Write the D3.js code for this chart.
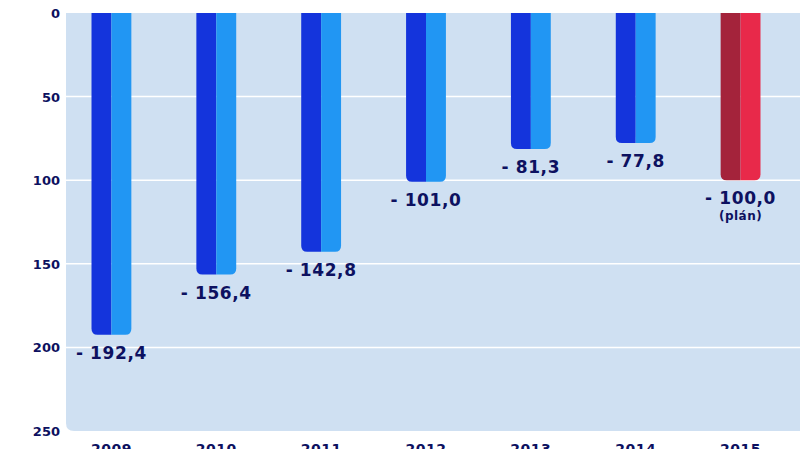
<!DOCTYPE html>
<html lang="cs">
  <head>
    <meta charset="UTF-8" />
    <script src="https://cdn.jsdelivr.net/npm/d3@7"></script>
    <style>
      body { margin: 0; background: #fff; }
      text { font-family: "DejaVu Sans", sans-serif; font-weight: bold; fill: #0d1160; }
    </style>
  </head>
  <body>
    <svg id="chart" width="800" height="449"></svg>
    <script>
      var years = ["2009", "2010", "2011", "2012", "2013", "2014", "2015"];
      var deficits = [192.4, 156.4, 142.8, 101.0, 81.3, 77.8, 100.0];
      var planned = [false, false, false, false, false, false, true];
      var yTicks = [0, 50, 100, 150, 200, 250];

      var svg = d3.select("#chart");
      var y = d3.scaleLinear().domain([0, 250]).range([13, 431]);
      var x = d3.scaleBand().domain(years).range([59, 793]).paddingInner(0.62).paddingOuter(0.31);

      // plot background
      svg.append("path")
        .attr("d", "M66,13 H800 V431 H74 Q66,431 66,423 Z")
        .attr("fill", "#cfe0f2");

      svg.selectAll(".grid").data(yTicks.slice(1, -1)).enter()
        .append("line")
        .attr("x1", 66).attr("x2", 800)
        .attr("y1", function (d) { return y(d); })
        .attr("y2", function (d) { return y(d); })
        .attr("stroke", "#fff").attr("stroke-width", 1.5);

      svg.selectAll(".ytick").data(yTicks).enter()
        .append("text")
        .attr("x", 60).attr("y", function (d) { return y(d) + 5; })
        .attr("text-anchor", "end").attr("font-size", 13)
        .text(function (d) { return d; });

      var bw = x.bandwidth();
      var bars = svg.selectAll(".bar").data(years).enter().append("g");

      function barPath(x0, w, h, leftRound, rightRound) {
        var r = 6, top = y(0);
        var bl = leftRound ? r : 0, br = rightRound ? r : 0;
        return "M" + x0 + "," + top + " H" + (x0 + w) +
          " V" + (top + h - br) + " Q" + (x0 + w) + "," + (top + h) + " " + (x0 + w - br) + "," + (top + h) +
          " H" + (x0 + bl) + " Q" + x0 + "," + (top + h) + " " + x0 + "," + (top + h - bl) + " Z";
      }

      bars.append("path")
        .attr("d", function (d, i) { return barPath(x(d), bw / 2, y(deficits[i]) - y(0), true, false); })
        .attr("fill", function (d, i) { return planned[i] ? "#a4233b" : "#1434dc"; });
      bars.append("path")
        .attr("d", function (d, i) { return barPath(x(d) + bw / 2, bw / 2, y(deficits[i]) - y(0), false, true); })
        .attr("fill", function (d, i) { return planned[i] ? "#e8294a" : "#2196f3"; });

      bars.append("text")
        .attr("x", function (d) { return x(d) + bw / 2; })
        .attr("y", function (d, i) { return y(deficits[i]) + 24; })
        .attr("text-anchor", "middle").attr("font-size", 17)
        .attr("letter-spacing", 0.6)
        .text(function (d, i) { return "- " + d3.format(".1f")(deficits[i]).replace(".", ","); });

      bars.filter(function (d, i) { return planned[i]; })
        .append("text")
        .attr("x", function (d) { return x(d) + bw / 2; })
        .attr("y", function (d, i) { return y(deficits[6]) + 40; })
        .attr("text-anchor", "middle").attr("font-size", 12)
        .attr("letter-spacing", 0.5)
        .text("(plán)");

      svg.selectAll(".xtick").data(years).enter()
        .append("text")
        .attr("x", function (d) { return x(d) + bw / 2; })
        .attr("y", 454)
        .attr("text-anchor", "middle").attr("font-size", 14)
        .attr("letter-spacing", 0.5)
        .text(function (d) { return d; });
    </script>
  </body>
</html>
